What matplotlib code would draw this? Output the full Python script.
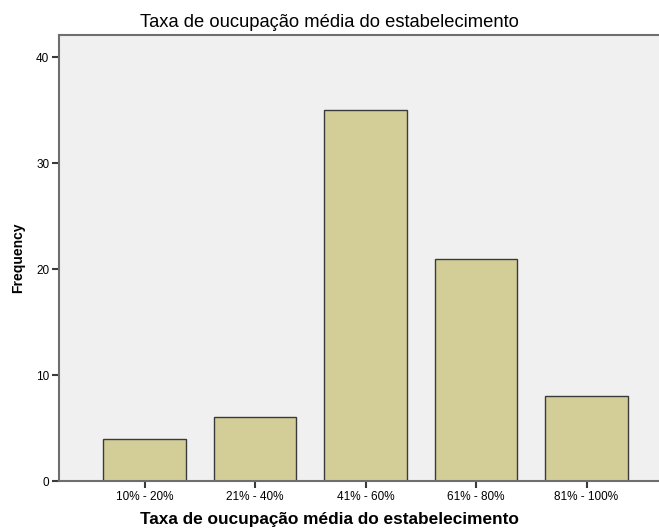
import matplotlib
matplotlib.use("Agg")
import matplotlib.pyplot as plt

# occupancy-rate classes and their frequencies
categories = ["10% - 20%", "21% - 40%", "41% - 60%", "61% - 80%", "81% - 100%"]
frequency = [4, 6, 35, 21, 8]
y_ticks = [0, 10, 20, 30, 40]

plt.rcParams['font.family'] = ['Liberation Sans', 'DejaVu Sans']

fig = plt.figure(figsize=(6.59, 5.29), dpi=100)
ax = fig.add_axes([59 / 659, 48 / 529, 1 - 59 / 659, (481 - 35) / 529])
ax.set_facecolor('#F0F0F0')

x = range(len(categories))
ax.bar(x, frequency, width=0.75, color='#D3CE97', edgecolor='#3A3A3A', linewidth=1.0, zorder=2)

ax.set_xlim(-0.774, 4.656)
ax.set_ylim(0, 42.1)
ax.set_xticks(list(x))
ax.set_xticklabels(categories, fontsize=8.5)
ax.set_yticks(y_ticks)
ax.set_yticklabels([str(v) for v in y_ticks], fontsize=8.5)

for side in ['left', 'bottom', 'top']:
    ax.spines[side].set_color('#6E6E6E')
    ax.spines[side].set_linewidth(1.5)
ax.spines['right'].set_visible(False)
ax.tick_params(axis='both', length=5, width=1.5, color='#3A3A3A', pad=2)

# title and x label are centred on the whole figure, not on the axes
fig_centre = (329.5 - 59) / 600
ax.set_title("Taxa de oucupação média do estabelecimento", fontsize=13.2, pad=6, x=fig_centre)
ax.set_xlabel("Taxa de oucupação média do estabelecimento", fontsize=12.4, fontweight='bold',
              labelpad=7, x=fig_centre)
ax.set_ylabel("Frequency", fontsize=10, fontweight='bold', labelpad=8)

fig.savefig("out.png", dpi=100)
